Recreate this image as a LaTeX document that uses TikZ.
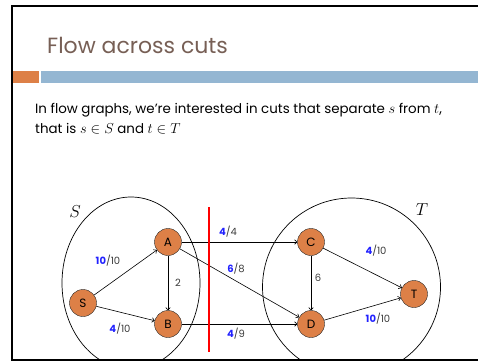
\documentclass[tikz,border=0pt]{standalone}
\usepackage{fontspec}
\setmainfont{Poppins}
\usepackage{xcolor}
\usetikzlibrary{arrows.meta, positioning}

\definecolor{nodeorange}{HTML}{DD8047}
\definecolor{barblue}{HTML}{94B6D2}
\definecolor{titlebrown}{HTML}{775F55}
\definecolor{flowblue}{HTML}{2222FF}
\definecolor{labelgray}{HTML}{3A3A3A}
\newcommand{\flowlab}[2]{{\color{flowblue}\bfseries #1}/#2}

\begin{document}
\begin{tikzpicture}[
        x=1pt, y=-1pt,
        >={To[length=3pt, width=5pt]},
        vtx/.style={circle, draw=black!85, fill=nodeorange, minimum size=27pt, inner sep=0pt, font=\fontsize{12}{12}\selectfont},
        edge/.style={->, line width=0.6pt},
        flow/.style={font=\fontsize{10}{10}\selectfont, text=labelgray, inner sep=1pt},
        region/.style={draw, line width=0.7pt},
        setname/.style={font=\fontsize{16}{16}\selectfont}
    ]
        \useasboundingbox (0,0) rectangle (478,361);

        % ================= SLIDE =================
        \draw[line width=2.5pt] (490,6) -- (12,6) -- (12,360) -- (490,360);
        \fill[nodeorange] (13,71) rectangle (39,83);
        \fill[barblue] (41,71) rectangle (478,83);

        \node[anchor=base west, text=titlebrown, font=\fontsize{22}{22}\selectfont, inner sep=0pt] (title) at (47,53) {Flow across cuts};
        \node[anchor=base west, font=\fontsize{13.4}{20}\selectfont, align=left, inner sep=0pt] (intro) at (35,133)
            {In flow graphs, we're interested in cuts that separate $s$ from $t$,\\ that is $s \in S$ and $t \in T$};

        % ================= CONJUNTOS =================
        \begin{scope}
            \clip (12,6) rectangle (478,360);
            \draw[region] (131,283) ellipse (69pt and 86pt);
            \draw[region] (351.5,287) circle (89pt);
        \end{scope}
        \node[setname] (setS) at (75,212) {$S$};
        \node[setname] (setT) at (422,210) {$T$};

        % ================= NODOS =================
        \node[vtx] (s) at (83,303) {S};
        \node[vtx] (a) at (168,242) {A};
        \node[vtx] (b) at (168,324) {B};
        \node[vtx] (c) at (311,242) {C};
        \node[vtx] (d) at (311,324) {D};
        \node[vtx] (t) at (414,294) {T};

        % ================= ARISTAS =================
        \draw[edge] (s) -- (a);
        \draw[edge] (s) -- (b);
        \draw[edge] (a) -- (b);
        \draw[edge] (a) -- (c);
        \draw[edge] (a) -- (d);
        \draw[edge] (b) -- (d);
        \draw[edge] (c) -- (d);
        \draw[edge] (c) -- (t);
        \draw[edge] (d) -- (t);

        % ================= FLUJOS =================
        \node[flow] (fsa) at (108,261) {\flowlab{10}{10}};
        \node[flow] (fsb) at (120,329) {\flowlab{4}{10}};
        \node[flow] (fab) at (178,283) {2};
        \node[flow] (fac) at (228,232) {\flowlab{4}{4}};
        \node[flow] (fad) at (236,269) {\flowlab{6}{8}};
        \node[flow] (fbd) at (236,334) {\flowlab{4}{9}};
        \node[flow] (fcd) at (318,278) {6};
        \node[flow] (fct) at (376,251) {\flowlab{4}{10}};
        \node[flow] (fdt) at (378,319) {\flowlab{10}{10}};

        % ================= CORTE =================
        \coordinate (cuttop) at (209,207);
        \coordinate (cutbot) at (209,352);
        \draw[red, line width=1.5pt] (cuttop) -- (cutbot);

    \end{tikzpicture}
\end{document}
